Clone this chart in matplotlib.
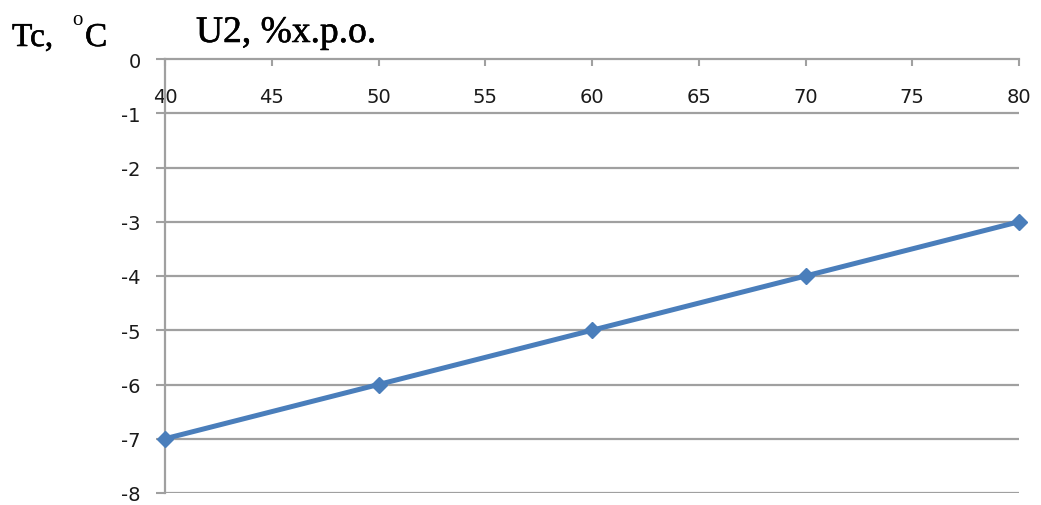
import matplotlib
matplotlib.use("Agg")
import matplotlib.pyplot as plt
import matplotlib.patheffects as pe

# data
u2 = [40, 50, 60, 70, 80]
tc = [-7, -6, -5, -4, -3]
x_ticks = [40, 45, 50, 55, 60, 65, 70, 75, 80]
y_ticks = [0, -1, -2, -3, -4, -5, -6, -7, -8]

GRID = "#a0a0a0"
LINE = "#4a7ebb"
TEXT = "#1a1a1a"

plt.rcParams["axes.unicode_minus"] = False

W, H = 1041, 506
fig = plt.figure(figsize=(W / 100, H / 100), dpi=100)
ax = fig.add_axes([165 / W, 1 - 494 / H, (1019 - 165) / W, (494 - 60) / H])

ax.plot(u2, tc, color=LINE, lw=3.6, marker="D", ms=8.5, mfc=LINE, mec=LINE,
        clip_on=False, zorder=5)

ax.set_xlim(40, 80)
ax.set_ylim(-8, 0)
ax.set_xticks(x_ticks)
ax.set_yticks(y_ticks)

for yv in y_ticks[1:]:
    ax.axhline(yv, color=GRID, lw=1.6, zorder=1)

for side in ("right", "bottom"):
    ax.spines[side].set_visible(False)
for side in ("left", "top"):
    ax.spines[side].set_color(GRID)
    ax.spines[side].set_linewidth(1.6)

ax.tick_params(axis="x", top=True, bottom=False, labeltop=True, labelbottom=False,
               direction="in", length=5, width=1.5, color=GRID, pad=-34,
               labelsize=14, labelcolor=TEXT)
ax.tick_params(axis="y", left=True, direction="out", length=6.5, width=1.5,
               color=GRID, pad=11, labelsize=14, labelcolor=TEXT)

# axis captions (y caption split so the degree sign sits high like the original)
serif = "Liberation Serif"
caps = [
    ("Tc,", 12, 47, 24, 0.4),
    ("o", 72, 25, 15, 0.0),
    ("C", 85, 47, 24, 0.4),
    ("U2, %x.p.o.", 196, 43, 27, 0.4),
]
for txt, px, py, size, stroke in caps:
    effects = [pe.withStroke(linewidth=stroke, foreground="black")] if stroke else None
    fig.text(px / W, 1 - py / H, txt, family=serif, fontsize=size, color="black",
             ha="left", va="baseline", path_effects=effects)

fig.savefig("out.png", dpi=100)
